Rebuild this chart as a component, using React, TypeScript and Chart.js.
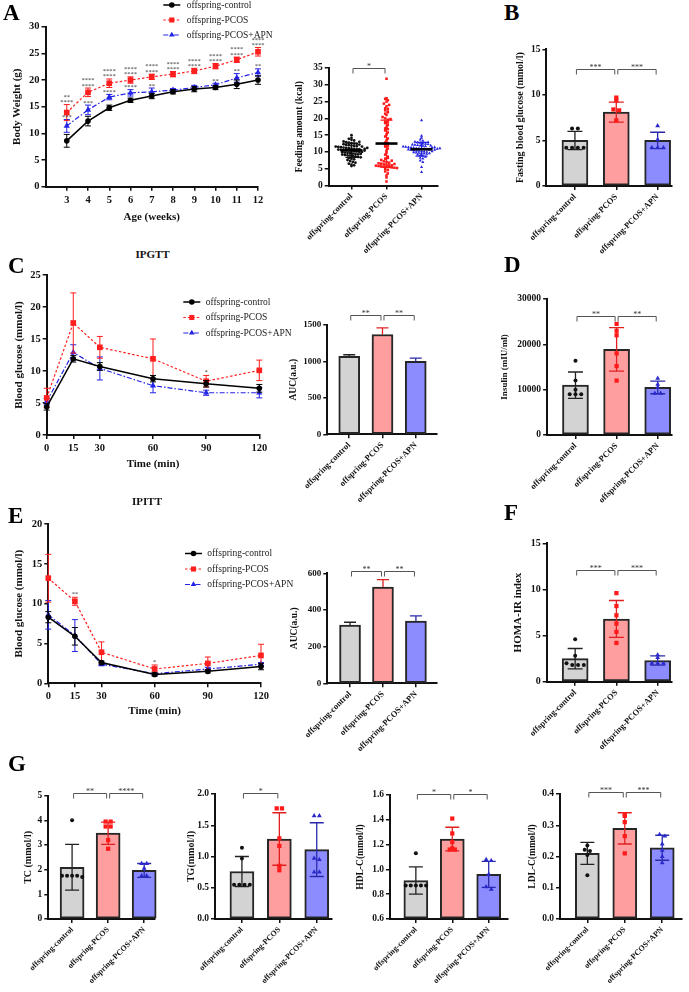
import React, { useEffect, useRef } from 'react';
import { Chart, registerables } from 'chart.js';
Chart.register(...registerables);

const FONT = "'Liberation Serif', 'Times New Roman', serif";

// ---------------- data ----------------
const groups = ['offspring-control', 'offspring-PCOS', 'offspring-PCOS+APN'];

// A: body weight
const ageWeeks = [3, 4, 5, 6, 7, 8, 9, 10, 11, 12];
const bwControl = [8.6, 12.3, 14.8, 16.2, 17.0, 17.8, 18.3, 18.6, 19.2, 20.0];
const bwControlSD = [1.2, 0.9, 0.5, 0.4, 0.5, 0.4, 0.5, 0.4, 0.8, 0.8];
const bwPcos = [13.9, 17.7, 19.4, 20.0, 20.6, 21.1, 21.7, 22.6, 23.8, 25.3];
const bwPcosSD = [1.5, 0.8, 0.8, 0.6, 0.5, 0.5, 0.5, 0.5, 0.5, 0.8];
const bwApn = [11.4, 14.4, 16.8, 17.6, 17.8, 18.1, 18.6, 19.1, 20.4, 21.4];
const bwApnSD = [1.2, 0.9, 0.5, 0.6, 0.7, 0.3, 0.4, 0.3, 0.8, 0.7];
const bwPcosStarsUpper = ['**', '****', '****', '****', '****', '****', '****', '****', '****', '****'];
const bwPcosStarsLower = ['****', '****', '****', '****', '****', '****', '****', '****', '****', '****'];
const bwApnStars = ['***', '***', '****', '****', '**', '', '', '**', '**', '**'];

// A: feeding amount
const feedControl = [15.0, 14.2, 13.9, 13.6, 13.4, 13.1, 12.9, 12.8, 12.6, 12.5, 12.4, 12.3, 12.1, 12.0, 11.9, 11.8, 11.7, 11.6, 11.5, 11.4, 11.3, 11.2, 11.1, 11.0, 10.9, 10.8, 10.8, 10.7, 10.6, 10.5, 10.5, 10.4, 10.3, 10.2, 10.1, 10.0, 10.0, 9.9, 9.8, 9.7, 9.6, 9.5, 9.4, 9.3, 9.2, 9.1, 9.0, 8.9, 8.8, 8.7, 8.5, 8.4, 8.2, 8.0, 7.8, 7.6, 7.3, 7.0, 6.8, 6.5, 6.2, 6.0, 5.8, 11.6, 10.9, 12.2, 9.4, 10.4, 11.2, 13.0];
const feedPcos = [31.8, 26.0, 25.8, 25.4, 25.0, 24.4, 23.6, 23.0, 22.4, 22.0, 21.4, 21.0, 20.4, 20.0, 19.6, 19.0, 18.6, 18.0, 17.4, 17.0, 16.4, 15.8, 15.2, 14.6, 14.0, 13.4, 12.8, 12.2, 11.6, 11.0, 10.4, 9.8, 9.2, 8.6, 8.0, 7.6, 7.2, 7.0, 6.8, 6.6, 6.5, 6.3, 6.2, 6.0, 6.0, 5.9, 5.8, 5.7, 5.6, 5.5, 5.5, 5.4, 5.3, 5.2, 5.0, 4.6, 4.2, 3.6, 3.0, 2.4, 1.2, 22.8, 21.8, 19.8, 18.8, 24.0, 16.8, 12.6, 11.8, 8.2, 7.4, 6.4];
const feedApn = [19.4, 14.8, 14.2, 13.7, 13.3, 13.0, 12.8, 12.7, 12.5, 12.4, 12.2, 12.1, 12.0, 11.9, 11.8, 11.7, 11.6, 11.5, 11.4, 11.3, 11.2, 11.1, 11.0, 11.0, 10.9, 10.8, 10.8, 10.7, 10.6, 10.5, 10.4, 10.3, 10.2, 10.1, 10.0, 9.9, 9.8, 9.7, 9.6, 9.5, 9.4, 9.2, 9.0, 8.8, 8.5, 8.2, 8.0, 7.4, 7.0, 5.5, 4.0, 11.3, 10.7, 12.3, 11.9, 10.2, 9.6, 12.9, 11.4, 10.9, 10.6, 11.1];
const feedMean = [10.5, 12.5, 10.8];
const feedSD = [2.1, 7.0, 2.05];
const feedBrackets: [number, number, number, string][] = [[0, 1, 35, '*']];

// B: fasting blood glucose
const fbgMean = [5.0, 8.1, 5.0];
const fbgSD = [1.0, 1.1, 0.9];
const fbgPoints = [[6.3, 6.3, 4.2, 4.2, 4.2, 4.2], [9.7, 9.4, 8.4, 8.3, 7.2], [6.6, 5.1, 4.2, 4.2, 4.2]];
const fbgBrackets: [number, number, number, string][] = [[0, 1, 12.8, '***'], [1, 2, 12.8, '***']];

// C: IPGTT
const ipTime = [0, 15, 30, 60, 90, 120];
const gttControl = [4.4, 11.9, 10.7, 8.8, 8.0, 7.3];
const gttControlSD = [0.5, 0.5, 0.6, 0.5, 0.5, 0.6];
const gttPcos = [5.8, 17.5, 13.7, 11.9, 8.4, 10.1];
const gttPcosSD = [1.5, 4.7, 1.7, 3.1, 0.9, 1.6];
const gttApn = [5.2, 12.9, 10.4, 7.7, 6.6, 6.6];
const gttApnSD = [0.5, 1.2, 1.8, 1.1, 0.4, 0.8];
const gttPcosStars = ['', '', '', '', '*', ''];
const gttAucMean = [1070, 1370, 1000];
const gttAucSD = [22, 90, 45];
const gttAucBrackets: [number, number, number, string][] = [[0, 1, 1637, '**'], [1, 2, 1637, '**']];

// D: insulin
const insMean = [11000, 18900, 10500];
const insSD = [2900, 4800, 1400];
const insPoints = [[16400, 12000, 10000, 9000, 9000, 9000], [24500, 23000, 22000, 18000, 15200, 12000], [12500, 11200, 10500, 9200, 9200]];
const insBrackets: [number, number, number, string][] = [[0, 1, 26300, '**'], [1, 2, 26300, '**']];

// E: IPITT
const ittControl = [8.3, 5.9, 2.6, 1.1, 1.5, 2.1];
const ittControlSD = [0.7, 1.1, 0.2, 0.2, 0.2, 0.4];
const ittPcos = [13.2, 10.3, 3.9, 1.8, 2.5, 3.5];
const ittPcosSD = [3.0, 0.5, 1.3, 0.5, 0.8, 1.4];
const ittApn = [8.6, 6.0, 2.4, 1.2, 1.8, 2.4];
const ittApnSD = [1.8, 2.0, 0.2, 0.2, 0.2, 0.2];
const ittPcosStars = ['', '**', '', '*', '', ''];
const ittAucMean = [318, 525, 340];
const ittAucSD = [15, 40, 28];
const ittAucBrackets: [number, number, number, string][] = [[0, 1, 612, '**'], [1, 2, 612, '**']];

// F: HOMA-IR
const homaMean = [2.5, 6.8, 2.3];
const homaSD = [1.1, 2.0, 0.5];
const homaPoints = [[4.6, 2.8, 2.0, 1.8, 1.8, 1.8], [9.6, 8.2, 7.2, 6.3, 5.4, 4.2], [2.9, 2.6, 2.0, 2.0, 2.0]];
const homaBrackets: [number, number, number, string][] = [[0, 1, 12.1, '***'], [1, 2, 12.1, '***']];

// G: lipids
const tcMean = [2.1, 3.48, 1.97];
const tcSD = [0.93, 0.45, 0.28];
const tcPoints = [[4.0, 1.75, 1.75, 1.75, 1.75, 1.7], [3.95, 3.95, 3.75, 3.75, 3.2, 2.85], [2.25, 2.25, 2.05, 1.75, 1.75]];
const tcBrackets: [number, number, number, string][] = [[0, 1, 5.1, '**'], [1, 2, 5.1, '****']];
const tgMean = [0.76, 1.28, 1.11];
const tgSD = [0.24, 0.42, 0.43];
const tgPoints = [[1.14, 0.97, 0.55, 0.55, 0.55, 0.55], [1.77, 1.77, 1.29, 1.17, 0.85, 0.78], [1.65, 1.65, 0.97, 0.95, 0.75, 0.75]];
const tgBrackets: [number, number, number, string][] = [[0, 1, 2.02, '*']];
const hdlMean = [0.91, 1.245, 0.96];
const hdlSD = [0.11, 0.095, 0.105];
const hdlPoints = [[1.13, 0.87, 0.87, 0.87, 0.87, 0.87], [1.41, 1.29, 1.22, 1.17, 1.16, 1.16], [1.08, 1.07, 0.96, 0.86, 0.84]];
const hdlBrackets: [number, number, number, string][] = [[0, 1, 1.61, '*'], [1, 2, 1.61, '*']];
const ldlMean = [0.21, 0.29, 0.228];
const ldlSD = [0.035, 0.05, 0.04];
const ldlPoints = [[0.235, 0.222, 0.218, 0.205, 0.14], [0.335, 0.33, 0.31, 0.265, 0.21], [0.27, 0.265, 0.24, 0.22, 0.2, 0.18]];
const ldlBrackets: [number, number, number, string][] = [[0, 1, 0.405, '***'], [1, 2, 0.405, '***']];

// ---------------- styles ----------------
const SERIES = [
  { color: '#000000', dash: [] as number[], width: 1.5, style: 'circle', r: 2.8 },
  { color: '#ff1f1f', dash: [2.5, 2], width: 1.2, style: 'rect', r: 4 },
  { color: '#2323e8', dash: [5, 2, 1.5, 2], width: 1.2, style: 'triangle', r: 3.6 },
];
const BAR_FILL = ['#d3d3d3', '#ff9e9e', '#8c8cff'];
const BAR_EDGE = '#262626';
const PT_COLOR = ['#111111', '#ff1a1a', '#2a2acc'];
const PT_STYLE = ['circle', 'rect', 'triangle'];
const PT_R = [2, 3, 2.8];
const ERR_COLOR = ['#222222', '#e02020', '#2a2aaa'];
const FEED_COLOR = ['#111111', '#ff1a1a', '#2424e0'];

// ---------------- helpers ----------------
function swarm(vals: number[], center: number, bin: number, dx: number) {
  const bins = new Map<number, number[]>();
  vals.forEach((v) => {
    const k = Math.round(v / bin);
    if (!bins.has(k)) bins.set(k, []);
    bins.get(k)!.push(v);
  });
  const out: { x: number; y: number }[] = [];
  bins.forEach((list) => {
    const n = list.length;
    list.forEach((v, j) => out.push({ x: center + (j - (n - 1) / 2) * dx, y: v }));
  });
  return out;
}

function drawMarker(ctx: CanvasRenderingContext2D, style: string, x: number, y: number, r: number, color: string) {
  ctx.fillStyle = color;
  ctx.beginPath();
  if (style === 'circle') ctx.arc(x, y, r, 0, Math.PI * 2);
  else if (style === 'rect') { const s = r * Math.SQRT1_2; ctx.rect(x - s, y - s, 2 * s, 2 * s); }
  else { ctx.moveTo(x, y - r); ctx.lineTo(x - r * 0.866, y + r * 0.5); ctx.lineTo(x + r * 0.866, y + r * 0.5); ctx.closePath(); }
  ctx.fill();
}

function drawErr(chart: any, index: number) {
  const ds: any = chart.data.datasets[index];
  const meta = chart.getDatasetMeta(index);
  const ctx = chart.ctx;
  const ys = chart.scales.y;
  ctx.save();
  if (ds.errors) {
    meta.data.forEach((el: any, i: number) => {
      const v = ds.data[i].y;
      const e = ds.errors[i];
      const col = Array.isArray(ds.errColor) ? ds.errColor[i] : ds.errColor;
      const x = el.x;
      const yT = ys.getPixelForValue(v + e);
      const yB = ds.errMode === 'up' ? ys.getPixelForValue(v) : ys.getPixelForValue(v - e);
      const cw = ds.capW;
      ctx.strokeStyle = col;
      ctx.lineWidth = ds.errWidth || 1.2;
      ctx.setLineDash([]);
      ctx.beginPath();
      ctx.moveTo(x, yT); ctx.lineTo(x, yB);
      ctx.moveTo(x - cw, yT); ctx.lineTo(x + cw, yT);
      if (ds.errMode !== 'up') { ctx.moveTo(x - cw, yB); ctx.lineTo(x + cw, yB); }
      ctx.stroke();
    });
  }
  if (ds.meanSd) {
    const m = ds.meanSd;
    const x = chart.scales.x.getPixelForValue(m.g);
    const yM = ys.getPixelForValue(m.mean);
    const yT = ys.getPixelForValue(m.mean + m.sd);
    const yB = ys.getPixelForValue(m.mean - m.sd);
    ctx.strokeStyle = m.color;
    ctx.lineWidth = 1.2;
    ctx.beginPath();
    ctx.moveTo(x, yT); ctx.lineTo(x, yB);
    ctx.moveTo(x - 6, yT); ctx.lineTo(x + 6, yT);
    ctx.moveTo(x - 6, yB); ctx.lineTo(x + 6, yB);
    ctx.stroke();
    ctx.strokeStyle = '#000';
    ctx.lineWidth = 2.6;
    ctx.beginPath();
    ctx.moveTo(x - 11, yM); ctx.lineTo(x + 11, yM);
    ctx.stroke();
  }
  ctx.restore();
}

const errPlugin = {
  id: 'errbars',
  beforeDatasetDraw(chart: any, args: any) {
    const ds: any = chart.data.datasets[args.index];
    if (ds.errUnder) drawErr(chart, args.index);
  },
  afterDatasetDraw(chart: any, args: any) {
    const ds: any = chart.data.datasets[args.index];
    if (!ds.errUnder) drawErr(chart, args.index);
  },
};

function bracketPlugin(items: [number, number, number, string][]) {
  return {
    id: 'brackets',
    afterDraw(chart: any) {
      const ctx = chart.ctx;
      const xs = chart.scales.x;
      const ys = chart.scales.y;
      ctx.save();
      ctx.strokeStyle = '#555';
      ctx.lineWidth = 1;
      ctx.fillStyle = '#333';
      ctx.font = `8px ${FONT}`;
      ctx.textAlign = 'center';
      ctx.textBaseline = 'alphabetic';
      items.forEach(([a, b, v, t]) => {
        const x1 = xs.getPixelForValue(a) + 1.5;
        const x2 = xs.getPixelForValue(b) - 1.5;
        const y = Math.round(ys.getPixelForValue(v)) + 0.5;
        ctx.beginPath();
        ctx.moveTo(x1, y + 5); ctx.lineTo(x1, y); ctx.lineTo(x2, y); ctx.lineTo(x2, y + 5);
        ctx.stroke();
        ctx.fillText(t, (x1 + x2) / 2, y + 0.5);
      });
      ctx.restore();
    },
  };
}

function legendPlugin(x: number, y0: number, dy: number, len: number, tx: number, size: number) {
  return {
    id: 'lineLegend',
    afterDraw(chart: any) {
      const ctx = chart.ctx;
      ctx.save();
      SERIES.forEach((s, i) => {
        const y = y0 + i * dy;
        ctx.strokeStyle = s.color;
        ctx.lineWidth = s.width;
        ctx.setLineDash(s.dash);
        ctx.beginPath(); ctx.moveTo(x, y); ctx.lineTo(x + len, y); ctx.stroke();
        ctx.setLineDash([]);
        drawMarker(ctx, s.style, x + len / 2, y, s.r * (s.style === 'circle' ? 1 : 0.9), s.color);
        ctx.fillStyle = '#222';
        ctx.font = `${size}px ${FONT}`;
        ctx.textAlign = 'left';
        ctx.textBaseline = 'middle';
        ctx.fillText(groups[i], tx, y);
      });
      ctx.restore();
    },
  };
}

function starPlugin(rows: { ds: number; texts: string[]; lift: number }[]) {
  return {
    id: 'stars',
    afterDatasetsDraw(chart: any) {
      const ctx = chart.ctx;
      const ys = chart.scales.y;
      ctx.save();
      ctx.font = `6.5px ${FONT}`;
      ctx.fillStyle = '#333';
      ctx.textAlign = 'center';
      ctx.textBaseline = 'alphabetic';
      rows.forEach((r) => {
        const ds: any = chart.data.datasets[r.ds];
        const meta = chart.getDatasetMeta(r.ds);
        r.texts.forEach((t, i) => {
          if (!t) return;
          const el: any = meta.data[i];
          const top = ys.getPixelForValue(ds.data[i].y + (ds.errors ? ds.errors[i] : 0));
          ctx.fillText(t, el.x, top - r.lift);
        });
      });
      ctx.restore();
    },
  };
}

const bold = (size: number) => ({ family: FONT, size, weight: 'bold' as const });
const axisGrid = () => ({ display: true, drawOnChartArea: false, drawTicks: true, tickLength: 4, color: '#111', lineWidth: 1.5, offset: false });
const axisBorder = () => ({ display: true, color: '#111', width: 2 });

function yAxis(width: number, min: number, max: number, step: number, title: string, titleSize: number, tickSize: number, decimals = 0) {
  return {
    type: 'linear', position: 'left', min, max,
    ticks: { stepSize: step, font: bold(tickSize), color: '#111', padding: 2, callback: (v: any) => Number(v).toFixed(decimals) },
    grid: axisGrid(), border: axisBorder(),
    title: { display: true, text: title, font: bold(titleSize), color: '#111', padding: 0 },
    afterFit: (s: any) => { s.width = width; s.paddingTop = 0; s.paddingBottom = 0; },
  };
}

function xLine(height: number, min: number, max: number, ticks: number[], title: string) {
  return {
    type: 'linear', position: 'bottom', min, max, offset: false,
    afterBuildTicks: (s: any) => { s.ticks = ticks.map((v) => ({ value: v })); },
    ticks: { autoSkip: false, maxRotation: 0, minRotation: 0, padding: 3, font: bold(10.5), color: '#111', callback: (v: any) => String(v) },
    grid: axisGrid(), border: axisBorder(),
    title: { display: true, text: title, font: bold(11), color: '#111', padding: 0 },
    afterFit: (s: any) => { s.height = height; s.paddingLeft = 0; s.paddingRight = 0; },
  };
}

function xCat(height: number, min: number, max: number, size: number) {
  return {
    type: 'linear', position: 'bottom', min, max, offset: false,
    afterBuildTicks: (s: any) => { s.ticks = [0, 1, 2].map((v) => ({ value: v })); },
    ticks: { autoSkip: false, minRotation: 45, maxRotation: 45, padding: 2, font: bold(size), color: '#111', callback: (v: any) => groups[Math.round(Number(v))] || '' },
    grid: axisGrid(), border: axisBorder(),
    afterFit: (s: any) => { s.height = height; s.paddingLeft = 0; s.paddingRight = 0; },
  };
}

function frameOptions(box: number[], plot: number[], scales: any) {
  const [cx, cy, cw] = box;
  const [, t, r] = plot;
  return {
    responsive: false,
    animation: false,
    devicePixelRatio: 1,
    events: [],
    layout: { padding: { left: 0, top: t - cy, right: cx + cw - r, bottom: 0 }, autoPadding: false },
    plugins: { legend: { display: false }, tooltip: { enabled: false } },
    scales,
  };
}

function dims(box: number[], plot: number[]) {
  return { L: plot[0] - box[0], B: box[1] + box[3] - plot[3] };
}

function lineDatasets(xs: number[], series: { vals: number[]; sds: number[] }[]) {
  return series.map((s, i) => ({
    type: 'line',
    data: xs.map((x, j) => ({ x, y: s.vals[j] })),
    borderColor: SERIES[i].color,
    backgroundColor: SERIES[i].color,
    borderWidth: SERIES[i].width,
    borderDash: SERIES[i].dash,
    pointStyle: SERIES[i].style,
    pointRadius: SERIES[i].r,
    pointBorderWidth: 0,
    tension: 0,
    clip: false,
    errors: s.sds,
    errColor: SERIES[i].color,
    capW: 3,
    errWidth: 1,
    errUnder: true,
  }));
}

type BarSpec = {
  box: number[]; plot: number[]; xmin: number; xmax: number;
  ymin: number; ymax: number; step: number; dec?: number;
  title: string; titleSize: number; tickSize: number; labelSize: number;
  barW: number; capW: number; errMode: 'both' | 'up';
  means: number[]; sds: number[]; points?: number[][]; brackets: [number, number, number, string][];
};

function barConfig(p: BarSpec) {
  const { L, B } = dims(p.box, p.plot);
  const ds: any[] = [];
  if (p.points) {
    p.points.forEach((vals, g) => ds.push({
      type: 'scatter',
      data: swarm(vals, g, (p.ymax - p.ymin) / 40, 0.14),
      pointStyle: PT_STYLE[g], pointRadius: PT_R[g], backgroundColor: PT_COLOR[g], borderWidth: 0, pointBorderWidth: 0, clip: false,
    }));
  }
  ds.push({
    type: 'bar',
    data: p.means.map((y, i) => ({ x: i, y })),
    base: p.ymin,
    backgroundColor: BAR_FILL, borderColor: BAR_EDGE, borderWidth: 2, borderSkipped: false,
    barThickness: p.barW, clip: false,
    errors: p.sds, errColor: ERR_COLOR, capW: p.capW, errMode: p.errMode, errWidth: 1.3,
  });
  return {
    type: 'bar',
    data: { datasets: ds },
    options: frameOptions(p.box, p.plot, {
      x: xCat(B, p.xmin, p.xmax, p.labelSize),
      y: yAxis(L, p.ymin, p.ymax, p.step, p.title, p.titleSize, p.tickSize, p.dec || 0),
    }),
    plugins: [errPlugin, bracketPlugin(p.brackets)],
  };
}

// ---------------- layout ----------------
const A1_BOX = [11, 0, 282, 224];
const A1_PLOT = [45.5, 26.7, 258, 186.7];
const A2_BOX = [294.3, 50, 150.7, 215];
const A2_PLOT = [329, 68, 438, 185.5];
const C1_BOX = [13, 265, 287, 206];
const C1_PLOT = [46.7, 275, 259.3, 435];
const E1_BOX = [13, 505, 287, 213];
const E1_PLOT = [48.3, 524, 261, 683.3];

function configA1() {
  const { L, B } = dims(A1_BOX, A1_PLOT);
  return {
    type: 'line',
    data: { datasets: lineDatasets(ageWeeks, [
      { vals: bwControl, sds: bwControlSD },
      { vals: bwPcos, sds: bwPcosSD },
      { vals: bwApn, sds: bwApnSD },
    ]) },
    options: frameOptions(A1_BOX, A1_PLOT, {
      x: xLine(B, 2, 12, ageWeeks, 'Age (weeks)'),
      y: yAxis(L, 0, 30, 5, 'Body Weight (g)', 11, 10.5),
    }),
    plugins: [errPlugin, legendPlugin(163.3 - 11, 5, 15, 17, 186.7 - 11, 9.5), starPlugin([
      { ds: 1, texts: bwPcosStarsLower, lift: 0.5 },
      { ds: 1, texts: bwPcosStarsUpper, lift: 5.8 },
      { ds: 2, texts: bwApnStars, lift: 0.5 },
    ])],
  };
}

function configA2() {
  const { L, B } = dims(A2_BOX, A2_PLOT);
  const vals = [feedControl, feedPcos, feedApn];
  const styles = ['circle', 'rect', 'triangle'];
  return {
    type: 'scatter',
    data: { datasets: vals.map((v, g) => ({
      type: 'scatter',
      data: swarm(v, g, 0.8, 0.075),
      pointStyle: styles[g], pointRadius: g === 0 ? 1.4 : 1.8, backgroundColor: FEED_COLOR[g], borderWidth: 0, pointBorderWidth: 0, clip: false,
      meanSd: { g, mean: feedMean[g], sd: feedSD[g], color: FEED_COLOR[g] },
    })) },
    options: frameOptions(A2_BOX, A2_PLOT, {
      x: xCat(B, -0.65, 2.47, 8.5),
      y: yAxis(L, 0, 35, 5, 'Feeding amount (kcal)', 9.5, 9.5),
    }),
    plugins: [errPlugin, bracketPlugin(feedBrackets)],
  };
}

function configC1() {
  const { L, B } = dims(C1_BOX, C1_PLOT);
  return {
    type: 'line',
    data: { datasets: lineDatasets(ipTime, [
      { vals: gttControl, sds: gttControlSD },
      { vals: gttPcos, sds: gttPcosSD },
      { vals: gttApn, sds: gttApnSD },
    ]) },
    options: frameOptions(C1_BOX, C1_PLOT, {
      x: xLine(B, 0, 120, ipTime, 'Time (min)'),
      y: yAxis(L, 0, 25, 5, 'Blood glucose (mmol/l)', 11, 10.5),
    }),
    plugins: [errPlugin, legendPlugin(183.3 - 13, 302 - 265, 15.5, 17, 205.7 - 13, 9.5), starPlugin([
      { ds: 1, texts: gttPcosStars, lift: 1 },
    ])],
  };
}

function configE1() {
  const { L, B } = dims(E1_BOX, E1_PLOT);
  return {
    type: 'line',
    data: { datasets: lineDatasets(ipTime, [
      { vals: ittControl, sds: ittControlSD },
      { vals: ittPcos, sds: ittPcosSD },
      { vals: ittApn, sds: ittApnSD },
    ]) },
    options: frameOptions(E1_BOX, E1_PLOT, {
      x: xLine(B, 0, 120, ipTime, 'Time (min)'),
      y: yAxis(L, 0, 20, 5, 'Blood glucose (mmol/l)', 11, 10.5),
    }),
    plugins: [errPlugin, legendPlugin(185 - 13, 553.5 - 505, 15.5, 17, 207.3 - 13, 9.5), starPlugin([
      { ds: 1, texts: ittPcosStars, lift: 1 },
    ])],
  };
}

const BAR_SPECS: BarSpec[] = [
  { box: [514.3, 30, 170.7, 240], plot: [546.7, 49.3, 671.7, 186], xmin: -0.69, xmax: 2.34, ymin: 0, ymax: 15, step: 5,
    title: 'Fasting blood glucose (mmol/l)', titleSize: 10, tickSize: 9.5, labelSize: 8.5, barW: 26, capW: 7.5, errMode: 'both',
    means: fbgMean, sds: fbgSD, points: fbgPoints, brackets: fbgBrackets },
  { box: [288, 295, 157, 225], plot: [327.3, 325, 437, 434.3], xmin: -0.66, xmax: 2.64, ymin: 0, ymax: 1500, step: 500,
    title: 'AUC(a.u.)', titleSize: 9.5, tickSize: 9, labelSize: 8.5, barW: 21, capW: 6, errMode: 'up',
    means: gttAucMean, sds: gttAucSD, brackets: gttAucBrackets },
  { box: [498.6, 280, 186.4, 240], plot: [546.7, 299, 671.7, 435], xmin: -0.69, xmax: 2.34, ymin: 0, ymax: 30000, step: 10000,
    title: 'Insulin (mIU/ml)', titleSize: 9, tickSize: 9.5, labelSize: 8.5, barW: 26, capW: 7.5, errMode: 'both',
    means: insMean, sds: insSD, points: insPoints, brackets: insBrackets },
  { box: [289, 545, 156, 225], plot: [327.3, 573.3, 437, 683.3], xmin: -0.69, xmax: 2.64, ymin: 0, ymax: 600, step: 200,
    title: 'AUC(a.u.)', titleSize: 9.5, tickSize: 9, labelSize: 8.5, barW: 21, capW: 6, errMode: 'up',
    means: ittAucMean, sds: ittAucSD, brackets: ittAucBrackets },
  { box: [512, 525, 173, 245], plot: [546.7, 543.3, 671.7, 681.7], xmin: -0.69, xmax: 2.34, ymin: 0, ymax: 15, step: 5,
    title: 'HOMA-IR index', titleSize: 11, tickSize: 10, labelSize: 8.5, barW: 26, capW: 7.5, errMode: 'both',
    means: homaMean, sds: homaSD, points: homaPoints, brackets: homaBrackets },
  { box: [22, 775, 148, 217], plot: [48.3, 795.7, 155, 919], xmin: -0.66, xmax: 2.3, ymin: 0, ymax: 5, step: 1,
    title: 'TC (mmol/l)', titleSize: 10, tickSize: 9.5, labelSize: 8, barW: 24, capW: 7, errMode: 'both',
    means: tcMean, sds: tcSD, points: tcPoints, brackets: tcBrackets },
  { box: [185, 775, 155, 217], plot: [215, 794, 331.7, 919], xmin: -0.72, xmax: 2.4, ymin: 0, ymax: 2, step: 0.5, dec: 1,
    title: 'TG(mmol/l)', titleSize: 10, tickSize: 9.5, labelSize: 8, barW: 24, capW: 7, errMode: 'both',
    means: tgMean, sds: tgSD, points: tgPoints, brackets: tgBrackets },
  { box: [355, 775, 160, 217], plot: [390, 795, 508, 919], xmin: -0.71, xmax: 2.53, ymin: 0.6, ymax: 1.6, step: 0.2, dec: 1,
    title: 'HDL-C(mmol/l)', titleSize: 9.5, tickSize: 9.5, labelSize: 8, barW: 24, capW: 7, errMode: 'both',
    means: hdlMean, sds: hdlSD, points: hdlPoints, brackets: hdlBrackets },
  { box: [527, 775, 162, 217], plot: [560, 794, 681.7, 919], xmin: -0.73, xmax: 2.52, ymin: 0, ymax: 0.4, step: 0.1, dec: 1,
    title: 'LDL-C(mmol/l)', titleSize: 9.5, tickSize: 9.5, labelSize: 8, barW: 24, capW: 7, errMode: 'both',
    means: ldlMean, sds: ldlSD, points: ldlPoints, brackets: ldlBrackets },
];

const LETTERS: [string, number, number][] = [
  ['A', 3, 1], ['B', 504, 1], ['C', 8, 254], ['D', 504, 253], ['E', 8, 504], ['F', 504, 501], ['G', 8, 752],
];
const TITLES: [string, number, number][] = [['IPGTT', 152.5, 249], ['IPITT', 147, 496]];

function ChartCanvas({ box, make }: { box: number[]; make: () => any }) {
  const ref = useRef<HTMLCanvasElement>(null);
  useEffect(() => {
    const chart = new Chart(ref.current as HTMLCanvasElement, make());
    return () => chart.destroy();
  }, []);
  const [x, y, w, h] = box;
  return (
    <canvas
      ref={ref}
      width={Math.round(w)}
      height={Math.round(h)}
      style={{ position: 'absolute', left: x, top: y, width: Math.round(w), height: Math.round(h) }}
    />
  );
}

export default function App() {
  return (
    <div style={{ position: 'absolute', left: 0, top: 0, width: 689, height: 992, background: '#fff', overflow: 'hidden' }}>
      <ChartCanvas box={A1_BOX} make={configA1} />
      <ChartCanvas box={A2_BOX} make={configA2} />
      <ChartCanvas box={C1_BOX} make={configC1} />
      <ChartCanvas box={E1_BOX} make={configE1} />
      {BAR_SPECS.map((s, i) => (
        <ChartCanvas key={i} box={s.box} make={() => barConfig(s)} />
      ))}
      {LETTERS.map(([t, x, y]) => (
        <div key={t} style={{ position: 'absolute', left: x, top: y, fontFamily: FONT, fontWeight: 'bold', fontSize: 23, lineHeight: 1, color: '#000' }}>{t}</div>
      ))}
      {TITLES.map(([t, cx, y]) => (
        <div key={t} style={{ position: 'absolute', left: cx - 40, top: y, width: 80, textAlign: 'center', fontFamily: FONT, fontWeight: 'bold', fontSize: 11, lineHeight: 1, color: '#111' }}>{t}</div>
      ))}
    </div>
  );
}
